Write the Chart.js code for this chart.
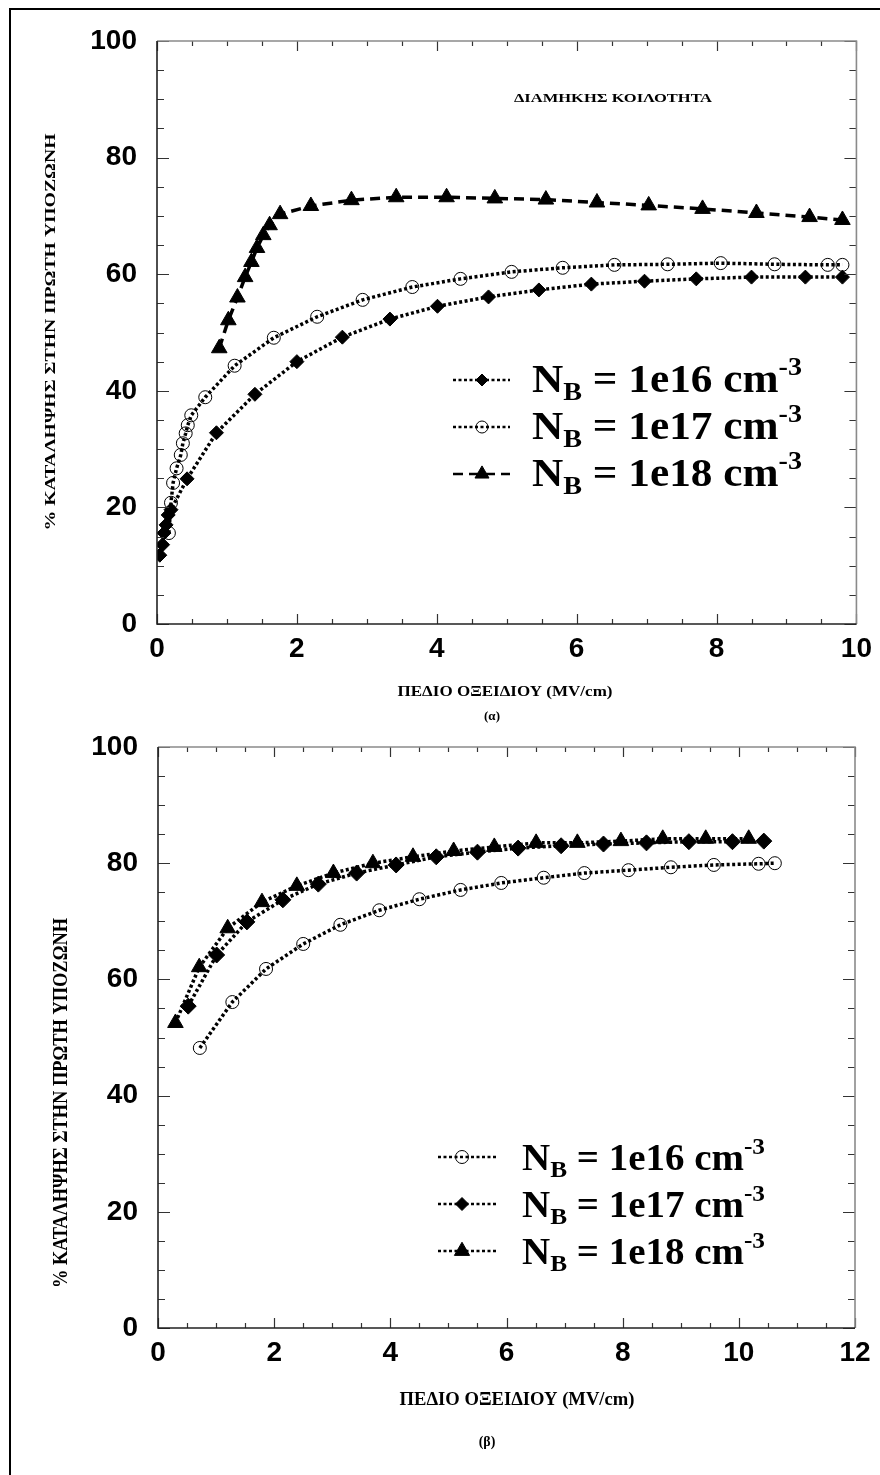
<!DOCTYPE html>
<html>
<head>
    <title>Κατάληψη πρώτης υποζώνης</title>
    <script src="https://cdn.jsdelivr.net/npm/chart.js"></script>
    <style>
        body { margin: 0; width: 880px; height: 1475px; overflow: hidden; background: #fff; position: relative; }
        #frame { position: absolute; left: 9px; top: 8px; width: 900px; height: 1500px; border: 2px solid #000; }
        canvas { position: absolute; left: 0; }
    </style>
</head>
<body>
    <div id="frame"></div>
    <canvas id="chartA" width="880" height="740" style="top:0px"></canvas>
    <canvas id="chartB" width="880" height="785" style="top:690px"></canvas>

    <script>
        // (α) ΔΙΑΜΗΚΗΣ ΚΟΙΛΟΤΗΤΑ
        const seriesA = ['1e16', '1e17', '1e18'];
        const a16x = [0.04, 0.08, 0.10, 0.13, 0.16, 0.20, 0.43, 0.85, 1.40, 2.00, 2.65, 3.33, 4.01, 4.74, 5.46, 6.21, 6.97, 7.71, 8.50, 9.27, 9.80];
        const a16y = [11.8, 13.6, 15.6, 17.0, 18.7, 19.6, 24.9, 32.8, 39.4, 45.0, 49.2, 52.3, 54.5, 56.1, 57.3, 58.3, 58.8, 59.2, 59.5, 59.5, 59.5];
        const a17x = [0.17, 0.20, 0.23, 0.28, 0.34, 0.37, 0.41, 0.44, 0.49, 0.69, 1.11, 1.67, 2.29, 2.94, 3.65, 4.34, 5.07, 5.80, 6.54, 7.30, 8.06, 8.83, 9.59, 9.80];
        const a17y = [15.6, 20.8, 24.2, 26.7, 29.0, 31.0, 32.7, 34.1, 35.8, 38.9, 44.3, 49.1, 52.7, 55.6, 57.8, 59.2, 60.4, 61.1, 61.6, 61.7, 61.9, 61.7, 61.6, 61.6];
        const a18x = [0.89, 1.02, 1.15, 1.26, 1.35, 1.43, 1.52, 1.61, 1.76, 2.20, 2.78, 3.42, 4.14, 4.83, 5.56, 6.29, 7.03, 7.80, 8.57, 9.33, 9.80];
        const a18y = [47.3, 52.1, 56.0, 59.5, 62.1, 64.5, 66.7, 68.4, 70.3, 71.7, 72.7, 73.2, 73.2, 73.0, 72.8, 72.3, 71.8, 71.2, 70.5, 69.8, 69.3];

        // (β)
        const seriesB = ['1e16', '1e17', '1e18'];
        const b16x = [0.72, 1.28, 1.86, 2.50, 3.14, 3.81, 4.50, 5.21, 5.91, 6.64, 7.34, 8.10, 8.83, 9.57, 10.34, 10.62];
        const b16y = [48.2, 56.1, 61.8, 66.1, 69.4, 71.9, 73.8, 75.4, 76.6, 77.5, 78.3, 78.8, 79.3, 79.7, 79.9, 80.0];
        const b17x = [0.52, 1.01, 1.53, 2.15, 2.76, 3.42, 4.10, 4.79, 5.50, 6.20, 6.94, 7.67, 8.41, 9.14, 9.89, 10.43];
        const b17y = [55.4, 64.2, 69.9, 73.7, 76.4, 78.3, 79.7, 81.1, 81.9, 82.6, 83.0, 83.3, 83.5, 83.7, 83.7, 83.8];
        const b18x = [0.30, 0.71, 1.20, 1.79, 2.39, 3.02, 3.70, 4.39, 5.09, 5.79, 6.51, 7.22, 7.97, 8.69, 9.43, 10.17];
        const b18y = [52.5, 62.1, 68.8, 73.3, 76.1, 78.3, 80.0, 81.1, 82.1, 82.8, 83.5, 83.5, 83.8, 84.2, 84.2, 84.2];

        const yTitle = '% ΚΑΤΑΛΗΨΗΣ ΣΤΗΝ ΠΡΩΤΗ ΥΠΟΖΩΝΗ';
        const xTitle = 'ΠΕΔΙΟ ΟΞΕΙΔΙΟΥ (MV/cm)';

        const serif = '"Liberation Serif", "Times New Roman", serif';
        const sans = '"Liberation Sans", Arial, sans-serif';

        function pts(xs, ys) {
            return xs.map((v, i) => ({ x: v, y: ys[i] }));
        }

        // marker / line styles
        function diamond(label, data, r) {
            return { label: label, data: data, showLine: true, borderColor: '#000', borderWidth: 3.5, borderDash: [3, 2.5],
                     pointStyle: 'rectRot', pointRadius: r, backgroundColor: '#000', pointBorderColor: '#000', pointBorderWidth: 1 };
        }
        function circle(label, data, r) {
            return { label: label, data: data, showLine: true, borderColor: '#000', borderWidth: 3.5, borderDash: [3, 2.5],
                     pointStyle: 'circle', pointRadius: r, backgroundColor: 'rgba(0,0,0,0)', pointBorderColor: '#000', pointBorderWidth: 1 };
        }
        function triangle(label, data, r, dash) {
            return { label: label, data: data, showLine: true, borderColor: '#000', borderWidth: 3.5, borderDash: dash,
                     pointStyle: 'triangle', pointRadius: r, backgroundColor: '#000', pointBorderColor: '#000', pointBorderWidth: 1 };
        }

        // text helper: centered, optionally rotated, squeezed to a width
        function fitText(ctx, text, x, y, font, width, rot) {
            ctx.save();
            ctx.translate(x, y);
            if (rot) ctx.rotate(rot);
            ctx.font = font;
            const w = ctx.measureText(text).width;
            if (width) ctx.scale(width / w, 1);
            ctx.fillStyle = '#000';
            ctx.textAlign = 'center';
            ctx.textBaseline = 'middle';
            ctx.fillText(text, 0, 0);
            ctx.restore();
        }

        function drawLegend(ctx, chart, lg) {
            chart.data.datasets.forEach((ds, i) => {
                const yb = lg.y + i * lg.gap;
                const ly = yb - lg.lift;
                ctx.save();
                ctx.strokeStyle = '#000';
                ctx.lineWidth = 2.5;
                ctx.setLineDash(ds.borderDash);
                ctx.beginPath(); ctx.moveTo(lg.x0, ly); ctx.lineTo(lg.x1, ly); ctx.stroke();
                ctx.setLineDash([]);
                ctx.fillStyle = ds.backgroundColor;
                ctx.lineWidth = 1;
                const r = ds.pointStyle === 'triangle' ? lg.r * 1.35 : lg.r;
                Chart.helpers.drawPoint(ctx, { pointStyle: ds.pointStyle, radius: r, borderWidth: 1, rotation: 0 }, lg.mx, ly);

                // N_B = 1e16 cm^-3
                const big = lg.size, small = Math.round(lg.size * 0.65);
                const parts = [
                    { t: 'N', s: big, dy: 0 },
                    { t: 'B', s: small, dy: big * 0.2 },
                    { t: ' = ' + ds.label + ' cm', s: big, dy: 0 },
                    { t: '-3', s: small, dy: -big * 0.42 }
                ];
                let total = 0;
                parts.forEach(p => { ctx.font = 'bold ' + p.s + 'px ' + serif; p.w = ctx.measureText(p.t).width; total += p.w; });
                ctx.translate(lg.tx, yb);
                ctx.scale(lg.w / total, 1);
                ctx.fillStyle = '#000';
                ctx.textBaseline = 'alphabetic';
                ctx.textAlign = 'left';
                let cx = 0;
                parts.forEach(p => { ctx.font = 'bold ' + p.s + 'px ' + serif; ctx.fillText(p.t, cx, p.dy); cx += p.w; });
                ctx.restore();
            });
        }

        // inward major/minor ticks on all four sides, frame, texts, legend
        const decorPlugin = {
            id: 'decor',
            afterDraw(chart, args, o) {
                const { ctx, chartArea: a, scales: { x, y } } = chart;
                ctx.save();
                ctx.lineWidth = 1.2;
                ctx.strokeStyle = '#333';
                const isMajor = (v, step) => Math.abs(v / step - Math.round(v / step)) < 1e-6;
                ctx.beginPath();
                for (let v = x.min; v <= x.max + 1e-9; v += o.xMinor) {
                    const px = Math.round(x.getPixelForValue(v)) + 0.5;
                    const len = isMajor(v, o.xMajor) ? 10 : 5;
                    ctx.moveTo(px, a.bottom); ctx.lineTo(px, a.bottom - len);
                    ctx.moveTo(px, a.top); ctx.lineTo(px, a.top + len);
                }
                for (let v = y.min; v <= y.max + 1e-9; v += o.yMinor) {
                    const py = Math.round(y.getPixelForValue(v)) + 0.5;
                    const len = isMajor(v, o.yMajor) ? 12 : 7;
                    ctx.moveTo(a.left, py); ctx.lineTo(a.left + len, py);
                    ctx.moveTo(a.right, py); ctx.lineTo(a.right - len, py);
                }
                ctx.stroke();

                ctx.lineWidth = 1.6;
                ctx.strokeStyle = '#8a8a8a';
                ctx.beginPath();
                ctx.moveTo(a.left, a.top); ctx.lineTo(a.right, a.top); ctx.lineTo(a.right, a.bottom);
                ctx.stroke();
                ctx.strokeStyle = '#222';
                ctx.beginPath();
                ctx.moveTo(a.left, a.top); ctx.lineTo(a.left, a.bottom); ctx.lineTo(a.right, a.bottom);
                ctx.stroke();
                ctx.restore();

                o.texts.forEach(t => fitText(ctx, t.text, t.x, t.y, t.font, t.w, t.rot));
                drawLegend(ctx, chart, o.legend);
            }
        };

        function plotGraph(canvas, datasets, xMax, xAxisH, pad, decor) {
            new Chart(canvas, {
                type: 'scatter',
                data: { datasets: datasets },
                options: {
                    responsive: false,
                    animation: false,
                    devicePixelRatio: 1,
                    layout: { padding: pad },
                    plugins: { legend: { display: false }, tooltip: { enabled: false }, decor: decor },
                    scales: {
                        x: {
                            type: 'linear', min: 0, max: xMax,
                            grid: { display: false, drawTicks: false }, border: { display: false },
                            ticks: { stepSize: 2, color: '#000', padding: 8, font: { family: sans, size: 28, weight: 'bold' } },
                            afterFit: s => { s.height = xAxisH; }
                        },
                        y: {
                            type: 'linear', min: 0, max: 100,
                            grid: { display: false, drawTicks: false }, border: { display: false },
                            ticks: { stepSize: 20, color: '#000', padding: 20, font: { family: sans, size: 28, weight: 'bold' } },
                            afterFit: s => { s.width = pad.yw; }
                        }
                    }
                },
                plugins: [decorPlugin]
            });
        }

        plotGraph(document.getElementById('chartA'), [
            diamond(seriesA[0], pts(a16x, a16y), 7),
            circle(seriesA[1], pts(a17x, a17y), 6.5),
            triangle(seriesA[2], pts(a18x, a18y), 9, [10, 6])
        ], 10, 116, { left: 0, top: 41, right: 22, bottom: 0, yw: 157 }, {
            xMinor: 0.5, xMajor: 2, yMinor: 5, yMajor: 20,
            texts: [
                { text: yTitle, x: 51, y: 332, font: 'bold 15px ' + serif, w: 397, rot: -Math.PI / 2 },
                { text: xTitle, x: 505, y: 692, font: 'bold 15px ' + serif, w: 215 },
                { text: '(α)', x: 492, y: 717, font: 'bold 13px ' + serif },
                { text: 'ΔΙΑΜΗΚΗΣ ΚΟΙΛΟΤΗΤΑ', x: 613, y: 99, font: 'bold 13px ' + serif, w: 198 }
            ],
            legend: { x0: 453, x1: 510, mx: 482, r: 6, y: 392, gap: 47, lift: 12, tx: 532, w: 270, size: 40 }
        });

        plotGraph(document.getElementById('chartB'), [
            circle(seriesB[0], pts(b16x, b16y), 6.5),
            diamond(seriesB[1], pts(b17x, b17y), 8),
            triangle(seriesB[2], pts(b18x, b18y), 9, [3, 2.5])
        ], 12, 147, { left: 0, top: 57, right: 25, bottom: 0, yw: 158 }, {
            xMinor: 0.5, xMajor: 2, yMinor: 5, yMajor: 20,
            texts: [
                { text: yTitle, x: 62, y: 1103 - 690, font: 'bold 20px ' + serif, w: 370, rot: -Math.PI / 2 },
                { text: xTitle, x: 517, y: 1400 - 690, font: 'bold 19px ' + serif, w: 235 },
                { text: '(β)', x: 487, y: 1442 - 690, font: 'bold 14px ' + serif }
            ],
            legend: { x0: 438, x1: 497, mx: 462, r: 6.5, y: 1170 - 690, gap: 47, lift: 13, tx: 522, w: 243, size: 37 }
        });
    </script>
</body>
</html>
